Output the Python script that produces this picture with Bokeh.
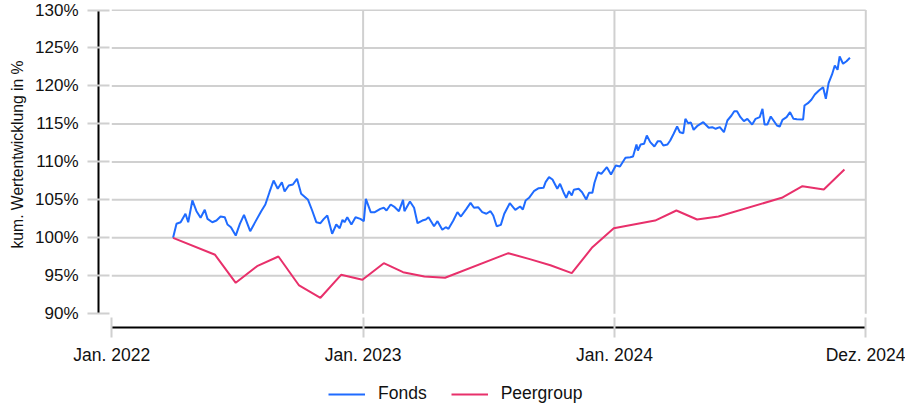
import pandas as pd
from bokeh.plotting import figure
from bokeh.layouts import column
from bokeh.models import FixedTicker, Legend, LegendItem, Range1d, Title
from bokeh.embed import file_html
from bokeh.resources import INLINE

# ---------------- data ----------------
base_date = "2022-01-01"

# Fonds: days since 2022-01-01 and cumulative performance in %
fonds_day = [89, 94, 100, 107, 111, 117, 123, 129, 135, 139, 146, 152, 158, 164, 168, 173, 180, 186, 192, 201,
             209, 217, 223, 229, 235, 241, 247, 251, 257, 263, 269, 275, 285, 291, 297, 303, 308, 313, 320, 326,
             331, 335, 338, 342, 348, 354, 361, 366, 369, 376, 382, 390, 395, 399, 405, 411, 417, 423, 425, 433,
             439, 444, 451, 456, 460, 468, 473, 480, 485, 489, 496, 502, 507, 515, 521, 526, 532, 538, 544, 550,
             554, 559, 565, 570, 578, 586, 593, 597, 601, 606, 613, 620, 627, 630, 635, 640, 647, 651, 656, 660,
             664, 668, 671, 678, 683, 689, 693, 698, 701, 706, 711, 719, 725, 732, 738, 746, 753, 757, 762, 764,
             768, 773, 777, 782, 788, 793, 797, 801, 807, 811, 816, 821, 825, 830, 833, 837, 841, 845, 851, 859,
             867, 872, 877, 883, 889, 894, 900, 904, 908, 913, 918, 923, 930, 935, 941, 945, 948, 952, 957, 961,
             966, 970, 974, 980, 985, 990, 995, 1004, 1006, 1011, 1016, 1021, 1027, 1033, 1037, 1041, 1046, 1050,
             1054, 1057, 1062, 1067, 1072]
fonds_value = [100.0, 101.85, 102.06, 103.17, 102.06, 104.92, 103.51, 102.64, 103.69, 102.5, 102.06, 102.28,
               102.81, 102.72, 101.76, 101.4, 100.3, 101.85, 103.03, 100.88, 102.2, 103.51, 104.39, 106.01,
               107.55, 106.46, 107.33, 106.1, 106.89, 107.02, 107.77, 105.8, 105.01, 103.6, 102.06, 101.93,
               102.5, 102.94, 100.53, 101.76, 101.27, 102.37, 102.06, 102.72, 101.76, 102.72, 102.5, 102.2,
               105.14, 103.38, 103.38, 103.82, 103.96, 103.6, 104.39, 104.04, 103.51, 105.01, 103.51, 104.79,
               103.96, 101.93, 102.28, 102.42, 102.72, 101.53, 102.2, 101.07, 101.4, 101.19, 102.28, 103.38,
               102.81, 103.82, 104.61, 103.96, 104.04, 103.38, 103.17, 103.51, 102.94, 101.53, 101.71, 103.17,
               104.56, 103.69, 104.13, 103.73, 104.92, 105.27, 106.14, 106.54, 106.59, 107.33, 107.99, 107.68,
               106.46, 107.11, 106.01, 105.27, 106.14, 105.58, 106.33, 106.46, 106.01, 105.05, 105.93, 105.93,
               107.25, 108.64, 108.43, 109.3, 108.34, 109.53, 109.4, 110.54, 110.62, 110.71, 112.29, 111.5,
               112.29, 112.38, 113.48, 112.6, 112.03, 112.73, 112.73, 112.16, 112.29, 112.82, 113.7, 114.66,
               113.91, 113.78, 115.67, 115.1, 115.19, 114.23, 114.79, 115.23, 114.49, 114.57, 114.36, 114.57,
               113.91, 115.45, 116.11, 116.68, 116.68, 115.89, 115.36, 115.67, 114.92, 115.67, 115.89, 116.99,
               114.92, 114.92, 115.98, 115.45, 114.79, 114.66, 115.54, 115.89, 116.55, 115.67, 115.62, 115.58,
               117.43, 117.73, 118.18, 118.87, 119.4, 119.84, 118.31, 120.37, 121.51, 122.69, 122.13, 123.88,
               122.92, 123.26, 123.71]

peer_dates = ["2022-03-31", "2022-05-31", "2022-06-30", "2022-07-31", "2022-08-31", "2022-09-30",
              "2022-10-31", "2022-11-30", "2022-12-31", "2023-01-31", "2023-02-28", "2023-03-31",
              "2023-04-30", "2023-07-31", "2023-08-31", "2023-09-30", "2023-10-31", "2023-11-30",
              "2023-12-31", "2024-02-29", "2024-03-31", "2024-04-30", "2024-05-31", "2024-08-31",
              "2024-09-30", "2024-10-31", "2024-11-30"]
peer_value = [100.0, 97.77, 94.08, 96.27, 97.54, 93.73, 92.11, 95.13, 94.48, 96.66, 95.48, 94.91,
              94.74, 97.98, 97.2, 96.4, 95.35, 98.77, 101.27, 102.28, 103.6, 102.42, 102.81, 105.27,
              106.8, 106.37, 109.0]

series_names = ["Fonds", "Peergroup"]
series_colors = ["#1f6bff", "#e8306b"]

x_tick_dates = ["2022-01-01", "2023-01-01", "2024-01-01", "2024-12-31"]
x_tick_labels = ["Jan. 2022", "Jan. 2023", "Jan. 2024", "Dez. 2024"]
y_ticks = [90, 95, 100, 105, 110, 115, 120, 125, 130]
y_tick_labels = ["90%", "95%", "100%", "105%", "110%", "115%", "120%", "125%", "130%"]
y_title = "kum. Wertentwicklung in %"

# ---------------- build ----------------
FONT = "Liberation Sans"
GRID = "#d0d0d0"
TXT = "#111111"
base = pd.Timestamp(base_date)
fonds_x = [base + pd.Timedelta(days=d) for d in fonds_day]
peer_x = list(pd.to_datetime(peer_dates))


def ms(d):
    return pd.Timestamp(d).value / 1e6


x_lo, x_hi = ms(x_tick_dates[0]), ms(x_tick_dates[-1])

p = figure(frame_width=769, frame_height=318, x_axis_type="datetime", output_backend="svg",
           toolbar_location=None,
           x_range=Range1d(base - pd.Timedelta(days=19.3), base + pd.Timedelta(days=1097.5)),
           y_range=Range1d(88.196, 130.066),
           min_border_left=98, min_border_right=38, min_border_top=9, min_border_bottom=50)
p.outline_line_color = None
p.background_fill_color = "white"
p.border_fill_color = "white"
p.xgrid.visible = False
p.ygrid.visible = False

# grid lines inside the panel (bounded like the reference)
hy = y_ticks[1:]
p.segment(x0=[pd.Timestamp(x_tick_dates[0])] * len(hy), x1=[pd.Timestamp(x_tick_dates[-1])] * len(hy),
          y0=hy, y1=hy, line_color=GRID, line_width=2)
vx = [pd.Timestamp(d) for d in x_tick_dates[1:]]
p.segment(x0=vx, x1=vx, y0=[y_ticks[0]] * len(vx), y1=[y_ticks[-1]] * len(vx),
          line_color=GRID, line_width=2)

r1 = p.line(fonds_x, fonds_value, line_color=series_colors[0], line_width=2)
r2 = p.line(peer_x, peer_value, line_color=series_colors[1], line_width=2)

# axes
xa = p.xaxis[0]
xa.ticker = FixedTicker(ticks=[ms(d) for d in x_tick_dates])
xa.major_label_overrides = {ms(d): lab for d, lab in zip(x_tick_dates, x_tick_labels)}
xa.bounds = (x_lo, x_hi)
xa.axis_line_color = "black"
xa.axis_line_width = 2
xa.major_tick_line_color = GRID
xa.major_tick_line_width = 2
xa.major_tick_in = 10
xa.major_tick_out = 10
xa.minor_tick_line_color = None
xa.major_label_standoff = 7
xa.major_label_text_font = FONT
xa.major_label_text_font_size = "17.5px"
xa.major_label_text_color = TXT

ya = p.yaxis[0]
ya.ticker = FixedTicker(ticks=y_ticks)
ya.major_label_overrides = {t: lab for t, lab in zip(y_ticks, y_tick_labels)}
ya.bounds = (y_ticks[0], y_ticks[-1])
ya.axis_line_color = "black"
ya.axis_line_width = 2
ya.major_tick_line_color = GRID
ya.major_tick_line_width = 2
ya.major_tick_in = 11
ya.major_tick_out = 11
ya.minor_tick_line_color = None
ya.major_label_standoff = 9
ya.major_label_text_font = FONT
ya.major_label_text_font_size = "17px"
ya.major_label_text_color = TXT

ytitle = Title(text=y_title, align="left", offset=79, standoff=13,
               text_font=FONT, text_font_size="15.7px", text_font_style="normal", text_color=TXT)
p.add_layout(ytitle, "left")

# legend strip below the chart (same series, drawn outside its visible range)
pl = figure(width=905, height=28, output_backend="svg", toolbar_location=None,
            x_range=Range1d(0, 1), y_range=Range1d(0, 1),
            x_axis_location=None, y_axis_location=None,
            min_border_left=0, min_border_right=0, min_border_top=0, min_border_bottom=0)
pl.outline_line_color = None
pl.xgrid.visible = False
pl.ygrid.visible = False
k1 = pl.line(fonds_x, fonds_value, line_color=series_colors[0], line_width=2)
k2 = pl.line(peer_x, peer_value, line_color=series_colors[1], line_width=2)
legend = Legend(items=[LegendItem(label=series_names[0], renderers=[k1]),
                       LegendItem(label=series_names[1], renderers=[k2])],
                orientation="horizontal", location=(230, 1),
                glyph_width=37, glyph_height=18, label_height=18, label_standoff=13, spacing=24,
                padding=0, margin=0, border_line_color=None, background_fill_alpha=0,
                label_text_font=FONT, label_text_font_size="17.5px", label_text_color=TXT)
pl.add_layout(legend, "center")

layout = column(p, pl, spacing=0)
open("out.html", "w").write(file_html(layout, INLINE))
